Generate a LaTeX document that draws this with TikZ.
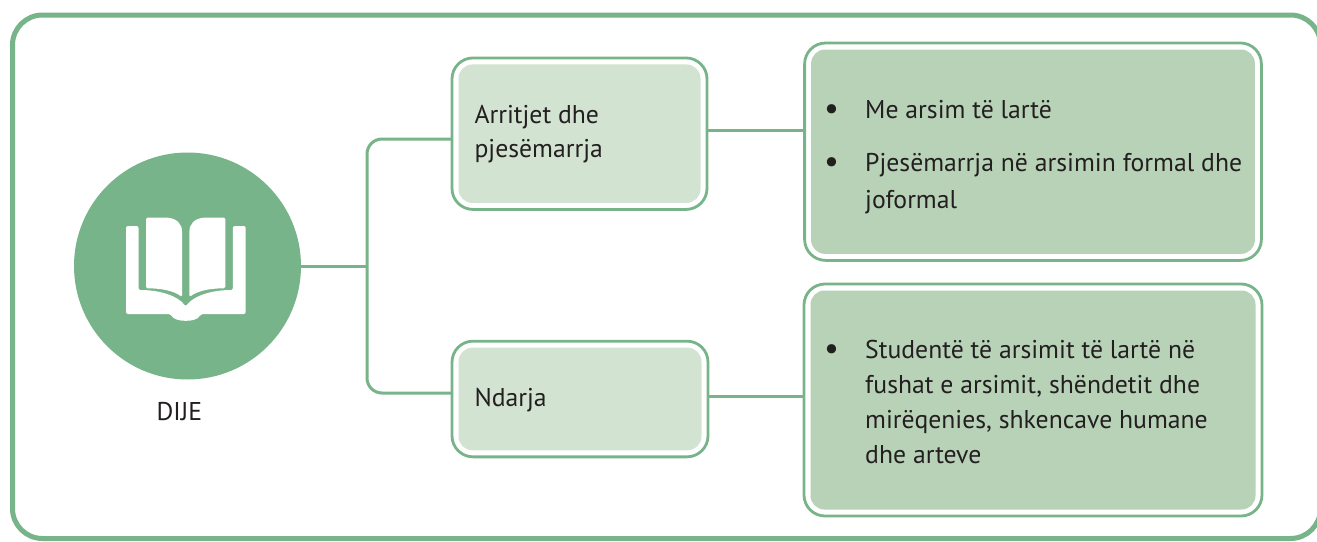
\documentclass[tikz,border=0pt]{standalone}
\usepackage{fontspec}
\setmainfont{PT Sans}
\definecolor{gr}{RGB}{120,180,137}
\definecolor{lightfill}{RGB}{211,227,209}
\definecolor{midfill}{RGB}{183,210,182}
\definecolor{ink}{RGB}{35,31,32}
\begin{document}
\begin{tikzpicture}[x=1pt,y=-1pt,
  conn/.style={draw=gr, line width=3pt},
  boxbase/.style={draw=gr, line width=2.8pt, fill=white, rounded corners=21pt, inner sep=0pt, outer sep=0pt},
  lightbox/.style={boxbase, path picture={\fill[lightfill, rounded corners=14pt] ([shift={(6.5pt,-6.5pt)}]path picture bounding box.north west) rectangle ([shift={(-6.5pt,6.5pt)}]path picture bounding box.south east);}},
  midbox/.style={boxbase, path picture={\fill[midfill, rounded corners=14pt] ([shift={(6.5pt,-6.5pt)}]path picture bounding box.north west) rectangle ([shift={(-6.5pt,6.5pt)}]path picture bounding box.south east);}},
  txt/.style={text=ink, font=\fontsize{25.7}{35}\selectfont, inner sep=0pt, align=left, anchor=base west},
  bul/.style={text=ink, font=\fontsize{33}{35}\selectfont, inner sep=0pt, anchor=base},
]
\useasboundingbox (0,0) rectangle (1317,541);
\fill[white] (0,0) rectangle (1317,541);
% outer frame
\draw[draw=gr, line width=5pt, rounded corners=30pt] (12.5,15) rectangle (1320.5,538.5);

% circle with icon
\node[circle, fill=gr, minimum size=227pt, inner sep=0pt, outer sep=0pt] (circ) at (187.5,266) {};
\fill[white, rounded corners=2pt] (126,226) -- (138.5,226) -- (138.5,290)
  .. controls (160,290) and (178,296) .. (185.7,306.5)
  .. controls (193.4,296) and (211.4,290) .. (232.9,290)
  -- (232.9,226) -- (245.7,226) -- (245.7,314) -- (200.5,314)
  .. controls (197,322.5) and (174.4,322.5) .. (170.9,314)
  -- (126,314) -- cycle;
\fill[white, rounded corners=1.5pt] (146,217.5) -- (166,217.5)
  .. controls (177,218.5) and (182,224) .. (182,233) -- (182,297)
  .. controls (174,291) and (162,288.3) .. (146,288.3) -- cycle;
\fill[white, rounded corners=1.5pt] (225.4,217.5) -- (205.4,217.5)
  .. controls (194.4,218.5) and (189.4,224) .. (189.4,233) -- (189.4,297)
  .. controls (197.4,291) and (209.4,288.3) .. (225.4,288.3) -- cycle;
\node[text=ink, font=\fontsize{25.7}{35}\selectfont, inner sep=0pt, anchor=base] (dije) at (179.3,420.7) {DIJE};

% boxes
\node[lightbox, minimum width=255pt, minimum height=151.5pt] (m1) at (579.5,133.7) {};
\node[lightbox, minimum width=256pt, minimum height=115.7pt] (m2) at (580,399) {};
\node[midbox, minimum width=456.8pt, minimum height=217.4pt] (r1) at (1033,151.7) {};
\node[midbox, minimum width=458pt, minimum height=232pt] (r2) at (1033,400) {};

% connectors
\coordinate (trunk) at (367,266);
\draw[conn] (circ.east) -- (trunk);
\draw[conn, rounded corners=15pt] ([yshift=-5.3pt]m1.west) -| (trunk) |- ([yshift=6pt]m2.west);
\draw[conn] ([yshift=3.7pt]m1.east) -- ([yshift=3.7pt]m1.east -| r1.west);
\draw[conn] ([yshift=3pt]m2.east) -- ([yshift=3pt]m2.east -| r2.west);

% texts (multi-line nodes: base = last line)
\node[txt, font=\fontsize{25.7}{34}\selectfont] (t1) at (474.3,157.3) {Arritjet dhe\\pjesëmarrja};
\node[txt] (t2) at (474.3,406) {Ndarja};
\node[bul] (b1) at (831.5,119) {•};
\node[txt] (t3) at (865,118.3) {Me arsim të lartë};
\node[bul] (b2) at (831.5,172.4) {•};
\node[txt, font=\fontsize{25.7}{36.6}\selectfont] (t4) at (865,208.3) {Pjesëmarrja në arsimin formal dhe\\joformal};
\node[bul] (b3) at (831.5,359) {•};
\node[txt, font=\fontsize{25.7}{35.2}\selectfont] (t5) at (865,463.9) {Studentë të arsimit të lartë në\\fushat e arsimit, shëndetit dhe\\mirëqenies, shkencave humane\\dhe arteve};
\end{tikzpicture}
\end{document}
